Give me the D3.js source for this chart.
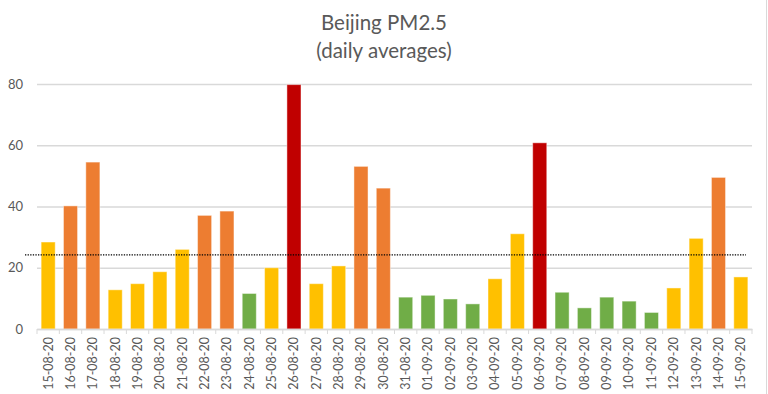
<!DOCTYPE html>
<html>
<head>
<meta charset="utf-8">
<script src="https://cdn.jsdelivr.net/npm/d3@7"></script>
<style>
  body { margin: 0; background: #fff; }
  svg { display: block; font-family: Lato, "Open Sans", sans-serif; }
</style>
</head>
<body>
<div id="chart"></div>
<script>
const dates = ['15-08-20','16-08-20','17-08-20','18-08-20','19-08-20','20-08-20','21-08-20','22-08-20','23-08-20','24-08-20','25-08-20','26-08-20','27-08-20','28-08-20','29-08-20','30-08-20','31-08-20','01-09-20','02-09-20','03-09-20','04-09-20','05-09-20','06-09-20','07-09-20','08-09-20','09-09-20','10-09-20','11-09-20','12-09-20','13-09-20','14-09-20','15-09-20']
const pm25 = [28.4,40.2,54.5,12.8,14.8,18.7,26.0,37.1,38.5,11.6,20.0,79.8,14.8,20.6,53.1,46.0,10.4,11.0,9.8,8.2,16.4,31.1,60.8,12.0,6.9,10.4,9.1,5.4,13.4,29.6,49.5,17.0]
// air quality level per day: g = good, y = moderate, o = unhealthy for sensitive, r = unhealthy
const levels = ['y','o','o','y','y','y','y','o','o','g','y','r','y','y','o','o','g','g','g','g','y','y','r','g','g','g','g','g','y','y','o','y']
const yTicks = [0, 20, 40, 60, 80]
const threshold = 24.2

const levelColor = { g: '#70AD47', y: '#FFC000', o: '#ED7D31', r: '#C00000' }

const width = 768, height = 394
const margin = { top: 84, right: 16, bottom: 65, left: 37 }

const svg = d3.select('#chart').append('svg')
    .attr('width', width)
    .attr('height', height)

//right edge of the chart area
svg.append('line')
    .attr('x1', 766.5).attr('x2', 766.5)
    .attr('y1', 0).attr('y2', height)
    .attr('stroke', '#d9d9d9')

const x = d3.scaleBand()
    .domain(dates)
    .range([margin.left, width - margin.right])
    .paddingInner(0.37)
    .paddingOuter(0.185)

const y = d3.scaleLinear()
    .domain([0, 80])
    .range([height - margin.bottom, margin.top])

//title
const title = svg.append('text')
    .attr('text-anchor', 'middle')
    .attr('fill', '#595959')
    .attr('font-size', 20.5)
title.append('tspan').attr('x', 384).attr('y', 30).text('Beijing PM2.5')
title.append('tspan').attr('x', 384).attr('y', 58).text('(daily averages)')

//gridlines + y labels
const yAxis = svg.append('g')
    .attr('transform', `translate(${margin.left},0)`)
    .call(d3.axisLeft(y).tickValues(yTicks).tickSize(-(width - margin.right - margin.left)).tickPadding(14))
yAxis.select('.domain').remove()
yAxis.selectAll('.tick line').attr('stroke', '#d9d9d9').attr('stroke-width', 1.3)
yAxis.selectAll('.tick text')
    .attr('fill', '#595959')
    .attr('font-size', 13)
    .attr('font-family', 'Lato, sans-serif')

//bars
svg.append('g')
    .selectAll('rect')
    .data(dates)
    .join('rect')
    .attr('x', d => x(d))
    .attr('y', (d, i) => y(pm25[i]))
    .attr('width', x.bandwidth())
    .attr('height', (d, i) => y(0) - y(pm25[i]))
    .attr('fill', (d, i) => levelColor[levels[i]])
    .attr('stroke', '#fff')
    .attr('stroke-opacity', 0.45)
    .attr('stroke-width', 1)

//x axis with category ticks between bars
const xAxis = svg.append('g')
    .attr('transform', `translate(0,${y(0)})`)
    .call(d3.axisBottom(x).tickSize(0).tickPadding(8))
xAxis.select('.domain').attr('stroke', '#d9d9d9').attr('stroke-width', 1.3)
xAxis.selectAll('.tick text')
    .attr('fill', '#595959')
    .attr('font-size', 12.5)
    .attr('font-family', 'Lato, sans-serif')
    .attr('text-anchor', 'end')
    .attr('dy', '0.35em')
    .attr('transform', 'rotate(-90)')
    .attr('x', -8)
    .attr('y', 0)

const step = x.step()
svg.append('g')
    .selectAll('line')
    .data(d3.range(dates.length + 1))
    .join('line')
    .attr('x1', i => margin.left + i * step)
    .attr('x2', i => margin.left + i * step)
    .attr('y1', y(0))
    .attr('y2', y(0) + 5)
    .attr('stroke', '#d9d9d9')

//threshold line
svg.append('line')
    .attr('x1', 25)
    .attr('x2', 746)
    .attr('y1', y(threshold))
    .attr('y2', y(threshold))
    .attr('stroke', '#000')
    .attr('stroke-width', 1.3)
    .attr('stroke-dasharray', '1.3,1.3')
</script>
</body>
</html>
